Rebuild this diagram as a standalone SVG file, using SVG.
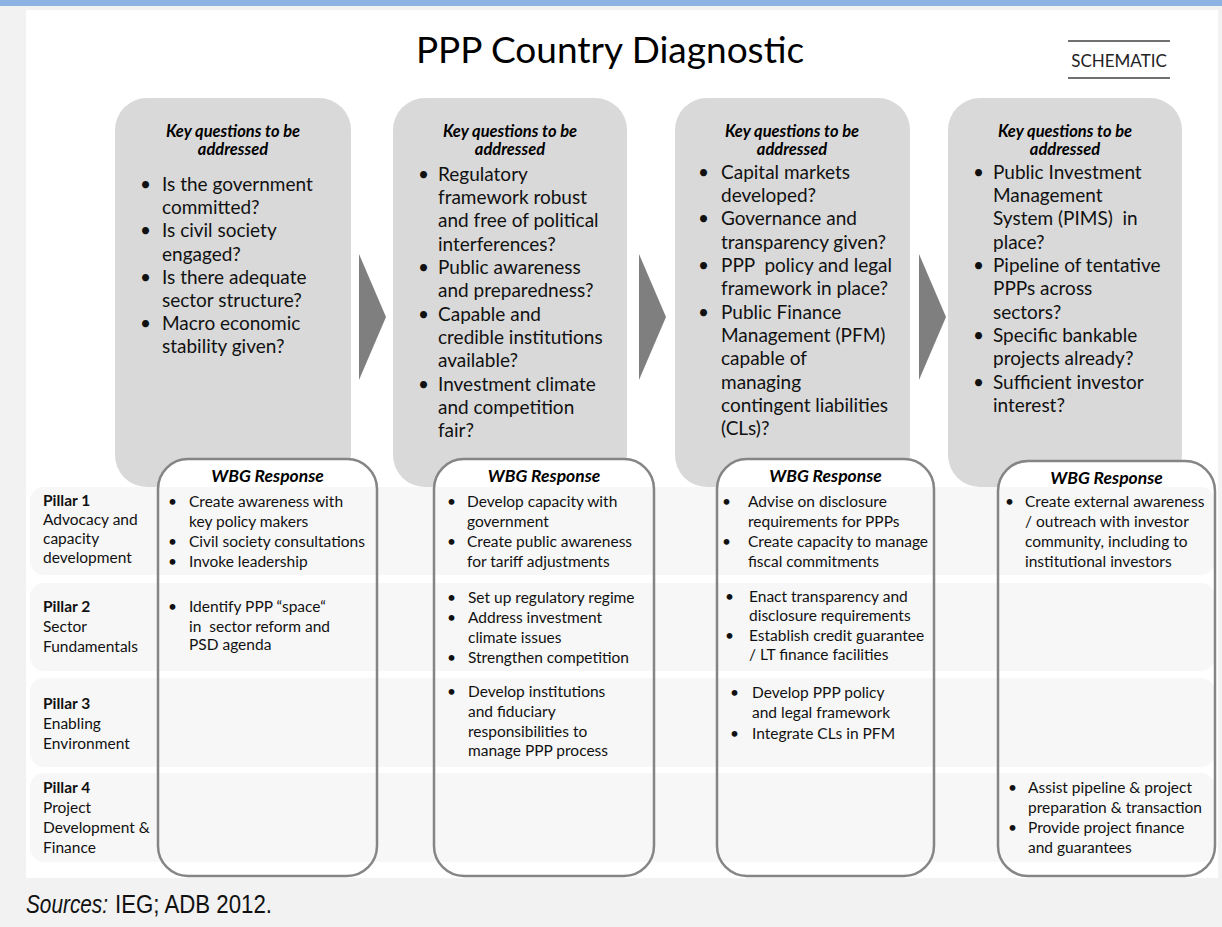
<svg xmlns="http://www.w3.org/2000/svg" width="1222" height="927" viewBox="0 0 1222 927">
<style>
text{font-family:Lato,"Open Sans","DejaVu Sans",sans-serif;fill:#000}
.title{font-size:37px}
.sch{font-size:17px;fill:#222}
.kh{font-size:16.5px;font-weight:bold;font-style:italic;text-anchor:middle}
.kq{font-size:19px;fill:#111}
.wh{font-size:17.5px;font-weight:bold;font-style:italic;text-anchor:middle}
.wt{font-size:15.5px;fill:#111}
.pl{font-size:15.5px;fill:#111}
.plb{font-weight:bold}
.qbox{fill:#d9d9d9}
.arrow{fill:#7f7f7f}
.row{fill:#000;fill-opacity:0.03}
.wfill{fill:#fff}
.wline{fill:none;stroke:#858585;stroke-width:2.5}
.src{font-family:"Liberation Sans Narrow","Liberation Sans",Arial,sans-serif;font-size:25px;fill:#111}
</style>
<rect x="0" y="0" width="1222" height="927" fill="#f2f2f2"/>
<rect x="0" y="0" width="1222" height="6" fill="#8db3e2"/>
<rect x="26" y="10" width="1192" height="868" fill="#fff"/>

<g id="title">
<text class="title" x="610" y="63" text-anchor="middle">PPP Country Diagnostic</text>
</g>
<g id="schematic">
<line x1="1068" y1="41" x2="1170" y2="41" stroke="#404040" stroke-width="1.5"/>
<line x1="1068" y1="78" x2="1170" y2="78" stroke="#404040" stroke-width="1.5"/>
<text class="sch" x="1119" y="67" text-anchor="middle">SCHEMATIC</text>
</g>

<g id="q1">
<rect class="qbox" x="115" y="98" width="236" height="389" rx="32"/>
<text class="kh" x="233" y="137">Key questions to be</text>
<text class="kh" x="233" y="155">addressed</text>
<text class="kq" x="140" y="191">•</text><text class="kq" x="162" y="191">Is the government</text>
<text class="kq" x="162" y="214">committed?</text>
<text class="kq" x="140" y="237">•</text><text class="kq" x="162" y="237">Is civil society</text>
<text class="kq" x="162" y="261">engaged?</text>
<text class="kq" x="140" y="284">•</text><text class="kq" x="162" y="284">Is there adequate</text>
<text class="kq" x="162" y="307">sector structure?</text>
<text class="kq" x="140" y="330">•</text><text class="kq" x="162" y="330">Macro economic</text>
<text class="kq" x="162" y="353">stability given?</text>
</g>

<g id="q2">
<rect class="qbox" x="393" y="98" width="234" height="389" rx="32"/>
<text class="kh" x="510" y="137">Key questions to be</text>
<text class="kh" x="510" y="155">addressed</text>
<text class="kq" x="418" y="181">•</text><text class="kq" x="438" y="181">Regulatory</text>
<text class="kq" x="438" y="204">framework robust</text>
<text class="kq" x="438" y="227">and free of political</text>
<text class="kq" x="438" y="251">interferences?</text>
<text class="kq" x="418" y="274">•</text><text class="kq" x="438" y="274">Public awareness</text>
<text class="kq" x="438" y="297">and preparedness?</text>
<text class="kq" x="418" y="321">•</text><text class="kq" x="438" y="321">Capable and</text>
<text class="kq" x="438" y="344">credible institutions</text>
<text class="kq" x="438" y="367">available?</text>
<text class="kq" x="418" y="391">•</text><text class="kq" x="438" y="391">Investment climate</text>
<text class="kq" x="438" y="414">and competition</text>
<text class="kq" x="438" y="437">fair?</text>
</g>

<g id="q3">
<rect class="qbox" x="675" y="98" width="235" height="389" rx="32"/>
<text class="kh" x="792" y="137">Key questions to be</text>
<text class="kh" x="792" y="155">addressed</text>
<text class="kq" x="698" y="179">•</text><text class="kq" x="721" y="179">Capital markets</text>
<text class="kq" x="721" y="202">developed?</text>
<text class="kq" x="698" y="225">•</text><text class="kq" x="721" y="225">Governance and</text>
<text class="kq" x="721" y="249">transparency given?</text>
<text class="kq" x="698" y="272">•</text><text class="kq" x="721" y="272" xml:space="preserve">PPP  policy and legal</text>
<text class="kq" x="721" y="295">framework in place?</text>
<text class="kq" x="698" y="319">•</text><text class="kq" x="721" y="319">Public Finance</text>
<text class="kq" x="721" y="342">Management (PFM)</text>
<text class="kq" x="721" y="365">capable of</text>
<text class="kq" x="721" y="389">managing</text>
<text class="kq" x="721" y="412">contingent liabilities</text>
<text class="kq" x="721" y="435">(CLs)?</text>
</g>

<g id="q4">
<rect class="qbox" x="948" y="98" width="234" height="389" rx="32"/>
<text class="kh" x="1065" y="137">Key questions to be</text>
<text class="kh" x="1065" y="155">addressed</text>
<text class="kq" x="973" y="179">•</text><text class="kq" x="993" y="179">Public Investment</text>
<text class="kq" x="993" y="202">Management</text>
<text class="kq" x="993" y="225" xml:space="preserve">System (PIMS)  in</text>
<text class="kq" x="993" y="249">place?</text>
<text class="kq" x="973" y="272">•</text><text class="kq" x="993" y="272">Pipeline of tentative</text>
<text class="kq" x="993" y="295">PPPs across</text>
<text class="kq" x="993" y="319">sectors?</text>
<text class="kq" x="973" y="342">•</text><text class="kq" x="993" y="342">Specific bankable</text>
<text class="kq" x="993" y="365">projects already?</text>
<text class="kq" x="973" y="389">•</text><text class="kq" x="993" y="389">Sufficient investor</text>
<text class="kq" x="993" y="412">interest?</text>
</g>

<g id="connectors">
<polygon class="arrow" points="359,254 386,317 359,380"/>
<polygon class="arrow" points="639,254 666,317 639,380"/>
<polygon class="arrow" points="919,254 946,317 919,380"/>
</g>

<g id="wbg-fills">
<rect class="wfill" x="158" y="459" width="219" height="417" rx="30"/>
<rect class="wfill" x="434" y="459" width="220" height="417" rx="30"/>
<rect class="wfill" x="717" y="459" width="217" height="417" rx="30"/>
<rect class="wfill" x="998" y="461" width="217" height="415" rx="30"/>
</g>

<g id="pillar-rows">
<rect class="row" x="30" y="487" width="1185" height="88" rx="14"/>
<rect class="row" x="30" y="583" width="1185" height="88" rx="14"/>
<rect class="row" x="30" y="678" width="1185" height="89" rx="14"/>
<rect class="row" x="30" y="773" width="1185" height="89" rx="14"/>
</g>

<g id="pillar1">
<text class="pl plb" x="43" y="506">Pillar 1</text>
<text class="pl" x="43" y="525">Advocacy and</text>
<text class="pl" x="43" y="544">capacity</text>
<text class="pl" x="43" y="563">development</text>
</g>
<g id="pillar2">
<text class="pl plb" x="43" y="612">Pillar 2</text>
<text class="pl" x="43" y="632">Sector</text>
<text class="pl" x="43" y="652">Fundamentals</text>
</g>
<g id="pillar3">
<text class="pl plb" x="43" y="709">Pillar 3</text>
<text class="pl" x="43" y="729">Enabling</text>
<text class="pl" x="43" y="749">Environment</text>
</g>
<g id="pillar4">
<text class="pl plb" x="43" y="793">Pillar 4</text>
<text class="pl" x="43" y="813">Project</text>
<text class="pl" x="43" y="833">Development &amp;</text>
<text class="pl" x="43" y="853">Finance</text>
</g>

<g id="wbg1">
<rect class="wline" x="158" y="459" width="219" height="417" rx="30"/>
<text class="wh" x="267.5" y="482">WBG Response</text>
<text class="wt" x="168" y="507">•</text><text class="wt" x="189" y="507">Create awareness with</text>
<text class="wt" x="189" y="527">key policy makers</text>
<text class="wt" x="168" y="547">•</text><text class="wt" x="189" y="547">Civil society consultations</text>
<text class="wt" x="168" y="567">•</text><text class="wt" x="189" y="567">Invoke leadership</text>
<text class="wt" x="168" y="612">•</text><text class="wt" x="189" y="612">Identify PPP “space“</text>
<text class="wt" x="189" y="632" xml:space="preserve">in  sector reform and</text>
<text class="wt" x="189" y="650">PSD agenda</text>
</g>

<g id="wbg2">
<rect class="wline" x="434" y="459" width="220" height="417" rx="30"/>
<text class="wh" x="544" y="482">WBG Response</text>
<text class="wt" x="447" y="507">•</text><text class="wt" x="467" y="507">Develop capacity with</text>
<text class="wt" x="467" y="527">government</text>
<text class="wt" x="447" y="547">•</text><text class="wt" x="467" y="547">Create public awareness</text>
<text class="wt" x="467" y="567">for tariff adjustments</text>
<text class="wt" x="447" y="603">•</text><text class="wt" x="468" y="603">Set up regulatory regime</text>
<text class="wt" x="447" y="623">•</text><text class="wt" x="468" y="623">Address investment</text>
<text class="wt" x="468" y="643">climate issues</text>
<text class="wt" x="447" y="663">•</text><text class="wt" x="468" y="663">Strengthen competition</text>
<text class="wt" x="447" y="697">•</text><text class="wt" x="468" y="697">Develop institutions</text>
<text class="wt" x="468" y="717">and fiduciary</text>
<text class="wt" x="468" y="737">responsibilities to</text>
<text class="wt" x="468" y="756">manage PPP process</text>
</g>

<g id="wbg3">
<rect class="wline" x="717" y="459" width="217" height="417" rx="30"/>
<text class="wh" x="825.5" y="482">WBG Response</text>
<text class="wt" x="722" y="507">•</text><text class="wt" x="748" y="507">Advise on disclosure</text>
<text class="wt" x="748" y="527">requirements for PPPs</text>
<text class="wt" x="722" y="547">•</text><text class="wt" x="748" y="547">Create capacity to manage</text>
<text class="wt" x="748" y="567">fiscal commitments</text>
<text class="wt" x="725" y="602">•</text><text class="wt" x="749" y="602">Enact transparency and</text>
<text class="wt" x="749" y="621">disclosure requirements</text>
<text class="wt" x="725" y="641">•</text><text class="wt" x="749" y="641">Establish credit guarantee</text>
<text class="wt" x="749" y="660">/ LT finance facilities</text>
<text class="wt" x="730" y="698">•</text><text class="wt" x="752" y="698">Develop PPP policy</text>
<text class="wt" x="752" y="718">and legal framework</text>
<text class="wt" x="730" y="739">•</text><text class="wt" x="752" y="739">Integrate CLs in PFM</text>
</g>

<g id="wbg4">
<rect class="wline" x="998" y="461" width="217" height="415" rx="30"/>
<text class="wh" x="1106.5" y="484">WBG Response</text>
<text class="wt" x="1005" y="507">•</text><text class="wt" x="1025" y="507">Create external awareness</text>
<text class="wt" x="1025" y="527">/ outreach with investor</text>
<text class="wt" x="1025" y="547">community, including to</text>
<text class="wt" x="1025" y="567">institutional investors</text>
<text class="wt" x="1008" y="793">•</text><text class="wt" x="1028" y="793">Assist pipeline &amp; project</text>
<text class="wt" x="1028" y="813">preparation &amp; transaction</text>
<text class="wt" x="1008" y="833">•</text><text class="wt" x="1028" y="833">Provide project finance</text>
<text class="wt" x="1028" y="853">and guarantees</text>
</g>

<g id="sources">
<text class="src" x="26" y="913" font-style="italic" textLength="82" lengthAdjust="spacingAndGlyphs">Sources:</text>
<text class="src" x="115" y="913" textLength="157" lengthAdjust="spacingAndGlyphs">IEG; ADB 2012.</text>
</g>
</svg>
